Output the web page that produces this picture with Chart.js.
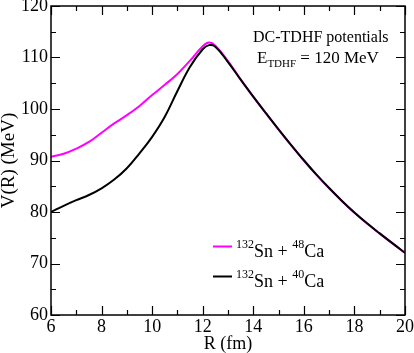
<!DOCTYPE html>
<html><head><meta charset="utf-8">
<script src="https://cdn.jsdelivr.net/npm/chart.js@4"></script>
<style>html,body{margin:0;padding:0;background:#fff;} #wrap{width:414px;height:353px;}</style>
</head><body><div id="wrap"><canvas id="c" width="414" height="353"></canvas></div>
<script>
// Data
const R = [6, 6.5, 7, 7.5, 8, 8.5, 9, 9.5, 10, 10.5, 11, 11.5, 12, 12.25, 12.5, 13, 13.5, 14, 14.5, 15, 15.5, 16, 16.5, 17, 17.5, 18, 18.5, 19, 19.5, 20];
const vSn132Ca48 = [90.7, 91.3, 92.3, 93.6, 95.4, 97.2, 98.8, 100.6, 102.7, 104.7, 106.8, 109.4, 112.2, 112.9, 112.3, 109.3, 105.75, 102.35, 99.15, 96.0, 92.95, 90.0, 87.2, 84.6, 82.15, 79.85, 77.75, 75.8, 73.9, 72.05];
const vSn132Ca40 = [80.0, 81.2, 82.3, 83.3, 84.6, 86.3, 88.5, 91.4, 94.6, 98.5, 103.5, 108.2, 111.6, 112.4, 112.1, 109.1, 105.7, 102.4, 99.2, 96.05, 93.0, 90.05, 87.25, 84.65, 82.2, 79.9, 77.8, 75.85, 73.95, 72.1];
const xTicks = [6, 8, 10, 12, 14, 16, 18, 20];
const yTicks = [60, 70, 80, 90, 100, 110, 120];
const seriesNames = ['132Sn + 48Ca', '132Sn + 40Ca'];
const legendMassA = ['132', '132'];
const legendMassB = ['48', '40'];
const seriesColors = ['#ff00ff', '#000000'];
const xTitle = 'R (fm)';
const yTitle = 'V(R) (MeV)';
const noteLine1 = 'DC-TDHF potentials';
const noteE = 'E', noteSub = 'TDHF', noteRest = ' = 120 MeV';

const SERIF = '"Liberation Serif", "Times New Roman", serif';

const frameTicks = {
  id: 'frameTicks',
  afterDatasetsDraw(chart) {
    const {ctx, chartArea: {left, right, top, bottom}, scales: {x, y}} = chart;
    ctx.save();
    ctx.strokeStyle = '#000';
    ctx.lineWidth = 1.5;
    ctx.strokeRect(left, top, right - left, bottom - top);
    ctx.beginPath();
    for (let v = xTicks[0]; v <= xTicks[xTicks.length - 1]; v += 1) {
      const p = Math.round(x.getPixelForValue(v)) + 0.5;
      const L = xTicks.includes(v) ? 9 : 5;
      ctx.moveTo(p, bottom); ctx.lineTo(p, bottom - L);
      ctx.moveTo(p, top); ctx.lineTo(p, top + L);
    }
    for (let v = yTicks[0]; v <= yTicks[yTicks.length - 1]; v += 5) {
      const p = Math.round(y.getPixelForValue(v)) + 0.5;
      const L = yTicks.includes(v) ? 9 : 5;
      ctx.moveTo(left, p); ctx.lineTo(left + L, p);
      ctx.moveTo(right, p); ctx.lineTo(right - L, p);
    }
    ctx.lineWidth = 1.2;
    ctx.stroke();
    ctx.restore();
  },
  afterDraw(chart) {
    const ctx = chart.ctx;
    ctx.save();
    ctx.fillStyle = '#000';
    ctx.textBaseline = 'alphabetic';
    ctx.textAlign = 'left';
    // annotation
    ctx.font = '16px ' + SERIF;
    ctx.fillText(noteLine1, 253, 42);
    let xx = 257;
    ctx.font = '17px ' + SERIF;
    ctx.fillText(noteE, xx, 63);
    xx += ctx.measureText(noteE).width;
    ctx.font = '11px ' + SERIF;
    ctx.fillText(noteSub, xx, 67);
    xx += ctx.measureText(noteSub).width;
    ctx.font = '17px ' + SERIF;
    ctx.fillText(noteRest, xx, 63);
    // legend
    for (let i = 0; i < seriesNames.length; i++) {
      const ly = 246.5 + i * 30;
      ctx.strokeStyle = seriesColors[i];
      ctx.lineWidth = 2;
      ctx.beginPath(); ctx.moveTo(213, ly); ctx.lineTo(232, ly); ctx.stroke();
      let tx = 236;
      const base = ly + 10.5;
      ctx.font = '12px ' + SERIF;
      ctx.fillText(legendMassA[i], tx, base - 9);
      tx += ctx.measureText(legendMassA[i]).width;
      ctx.font = '18px ' + SERIF;
      ctx.fillText('Sn + ', tx, base);
      tx += ctx.measureText('Sn + ').width;
      ctx.font = '12px ' + SERIF;
      ctx.fillText(legendMassB[i], tx, base - 9);
      tx += ctx.measureText(legendMassB[i]).width;
      ctx.font = '18px ' + SERIF;
      ctx.fillText('Ca', tx, base);
    }
    ctx.restore();
  }
};

new Chart(document.getElementById('c'), {
  type: 'line',
  data: {
    datasets: [
      { label: seriesNames[1], data: R.map((r, i) => ({x: r, y: vSn132Ca40[i]})), borderColor: seriesColors[1], borderWidth: 2, pointRadius: 0, tension: 0.4, order: 0 },
      { label: seriesNames[0], data: R.map((r, i) => ({x: r, y: vSn132Ca48[i]})), borderColor: seriesColors[0], borderWidth: 2, pointRadius: 0, tension: 0.4, order: 1 }
    ]
  },
  options: {
    responsive: false,
    animation: false,
    devicePixelRatio: 1,
    layout: { padding: { top: 6, right: 9, left: 0, bottom: 0 } },
    plugins: { legend: { display: false }, tooltip: { enabled: false } },
    scales: {
      x: {
        type: 'linear', min: 6, max: 20,
        afterBuildTicks: (s) => { s.ticks = xTicks.map(v => ({value: v})); },
        grid: { display: false, drawTicks: false },
        border: { display: false },
        ticks: { color: '#000', font: { family: SERIF, size: 18 }, padding: 1, maxRotation: 0, autoSkip: false },
        title: { display: true, text: xTitle, color: '#000', font: { family: SERIF, size: 18, lineHeight: 1 }, padding: { top: 0, bottom: 0 } },
        afterFit: (s) => { s.height = 38; s.paddingLeft = 0; s.paddingRight = 0; }
      },
      y: {
        type: 'linear', min: 60, max: 120,
        afterBuildTicks: (s) => { s.ticks = yTicks.map(v => ({value: v})); },
        grid: { display: false, drawTicks: false },
        border: { display: false },
        ticks: { color: '#000', font: { family: SERIF, size: 18 }, padding: 3, autoSkip: false },
        title: { display: true, text: yTitle, color: '#000', font: { family: SERIF, size: 19, lineHeight: 1 }, padding: { top: 0, bottom: 0 } },
        afterFit: (s) => { s.width = 51; s.paddingTop = 0; s.paddingBottom = 0; }
      }
    }
  },
  plugins: [frameTicks]
});
</script></body></html>
